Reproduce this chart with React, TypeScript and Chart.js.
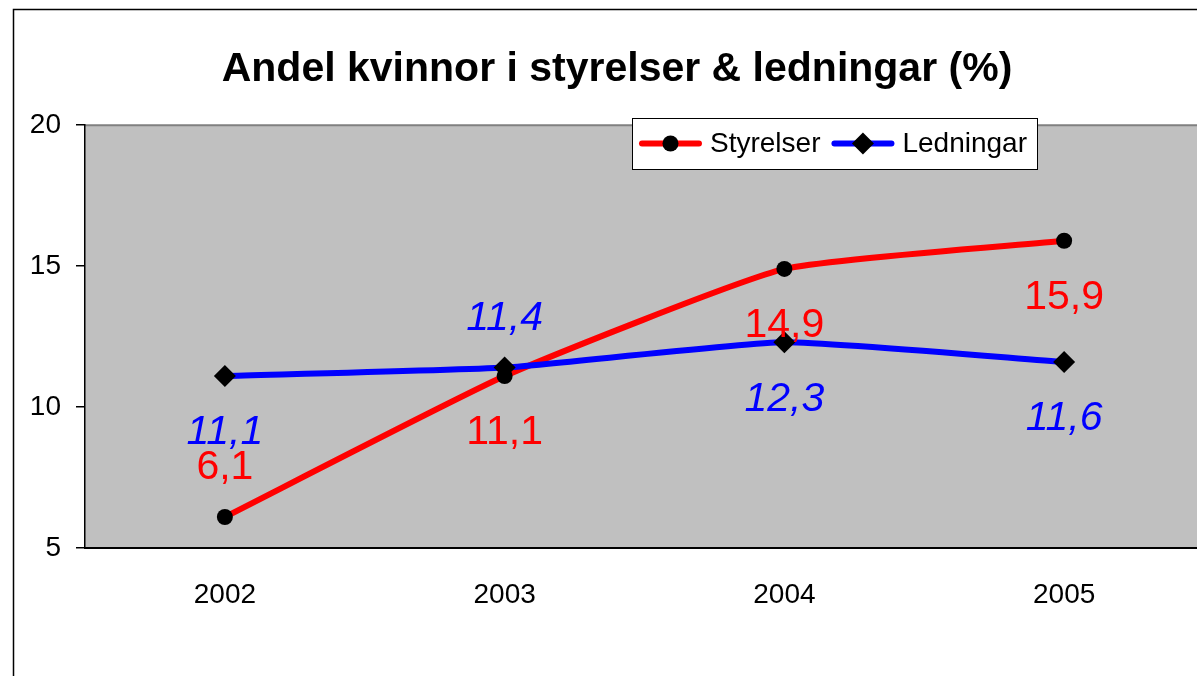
import React, { useEffect, useRef } from 'react';
import { Chart, registerables } from 'chart.js';

Chart.register(...registerables);

// ---- data ----
const years = ['2002', '2003', '2004', '2005'];
const styrelser = [6.1, 11.1, 14.9, 15.9];
const ledningar = [11.1, 11.4, 12.3, 11.6];
const yTicks = [5, 10, 15, 20];
const styrelserLabelSide = ['above', 'below', 'below', 'below'];
const ledningarLabelSide = ['below', 'above', 'below', 'below'];
const titleText = 'Andel kvinnor i styrelser & ledningar (%)';

const FONT = '"Liberation Sans", Arial, Helvetica, sans-serif';
const W = 1234;
const H = 676;

const fmt = (v: number) => v.toFixed(1).replace('.', ',');

const backgroundPlugin = {
  id: 'bgFrame',
  beforeDraw(chart: any) {
    const { ctx, chartArea } = chart;
    ctx.save();
    ctx.fillStyle = '#ffffff';
    ctx.fillRect(0, 0, chart.width, chart.height);
    ctx.strokeStyle = '#000000';
    ctx.lineWidth = 1.5;
    ctx.strokeRect(13.5, 9.5, chart.width, chart.height + 40);
    ctx.fillStyle = '#c0c0c0';
    ctx.fillRect(chartArea.left, chartArea.top, chartArea.right - chartArea.left, chartArea.bottom - chartArea.top);
    ctx.strokeStyle = '#808080';
    ctx.lineWidth = 2;
    ctx.beginPath();
    ctx.moveTo(chartArea.left, chartArea.top);
    ctx.lineTo(chartArea.right, chartArea.top);
    ctx.lineTo(chartArea.right, chartArea.bottom);
    ctx.stroke();
    ctx.restore();
  },
};

const labelPlugin = {
  id: 'valueLabels',
  afterDatasetsDraw(chart: any) {
    const { ctx } = chart;
    chart.data.datasets.forEach((ds: any, di: number) => {
      const meta = chart.getDatasetMeta(di);
      const sides = ds.labelSides as string[];
      ctx.save();
      ctx.font = `${ds.labelItalic ? 'italic ' : ''}41px ${FONT}`;
      ctx.fillStyle = ds.borderColor;
      ctx.textAlign = 'center';
      ctx.textBaseline = 'middle';
      meta.data.forEach((pt: any, i: number) => {
        const off = sides[i] === 'above' ? -49 : 57;
        ctx.fillText(fmt(ds.data[i]), pt.x, pt.y + off);
      });
      ctx.restore();
    });
  },
};

function drawMarker(ctx: CanvasRenderingContext2D, style: string, x: number, y: number) {
  ctx.fillStyle = '#000';
  ctx.beginPath();
  if (style === 'circle') {
    ctx.arc(x, y, 8, 0, Math.PI * 2);
  } else {
    const r = 11;
    ctx.moveTo(x - r, y);
    ctx.lineTo(x, y - r);
    ctx.lineTo(x + r, y);
    ctx.lineTo(x, y + r);
    ctx.closePath();
  }
  ctx.fill();
}

const legendPlugin = {
  id: 'customLegend',
  afterDraw(chart: any) {
    const { ctx } = chart;
    const datasets = chart.data.datasets;
    ctx.save();
    ctx.font = `28px ${FONT}`;
    const lineLen = 63;
    const gapText = 8;
    const gapItem = 11;
    const padL = 7;
    const padR = 10;
    let total = padL;
    datasets.forEach((ds: any, i: number) => {
      total += lineLen + gapText + ctx.measureText(ds.label).width;
      if (i < datasets.length - 1) total += gapItem;
    });
    total += padR;
    const right = 1037;
    const left = right - total;
    const top = 118;
    const h = 51;
    const cy = top + h / 2;
    ctx.fillStyle = '#ffffff';
    ctx.fillRect(left, top, total, h);
    ctx.strokeStyle = '#000';
    ctx.lineWidth = 1;
    ctx.strokeRect(Math.round(left) + 0.5, top + 0.5, Math.round(total), h);
    let x = left + padL;
    datasets.forEach((ds: any) => {
      ctx.strokeStyle = ds.borderColor;
      ctx.lineWidth = 6;
      ctx.lineCap = 'round';
      ctx.beginPath();
      ctx.moveTo(x + 3, cy);
      ctx.lineTo(x + lineLen - 3, cy);
      ctx.stroke();
      drawMarker(ctx, ds.pointStyle, x + lineLen / 2, cy);
      x += lineLen + gapText;
      ctx.fillStyle = '#000';
      ctx.textAlign = 'left';
      ctx.textBaseline = 'middle';
      ctx.fillText(ds.label, x, cy + 1);
      x += ctx.measureText(ds.label).width + gapItem;
    });
    ctx.restore();
  },
};

export default function App() {
  const ref = useRef<HTMLCanvasElement | null>(null);

  useEffect(() => {
    if (!ref.current) return;
    const chart = new Chart(ref.current, {
      type: 'line',
      data: {
        labels: years,
        datasets: [
          {
            label: 'Styrelser',
            data: styrelser,
            borderColor: '#ff0000',
            backgroundColor: '#000000',
            borderWidth: 6,
            tension: 0.15,
            pointStyle: 'circle',
            pointRadius: 8,
            pointHoverRadius: 8,
            pointBackgroundColor: '#000000',
            pointBorderColor: '#000000',
            pointBorderWidth: 0,
            order: 2,
            labelSides: styrelserLabelSide,
            labelItalic: false,
          } as any,
          {
            label: 'Ledningar',
            data: ledningar,
            borderColor: '#0000ff',
            backgroundColor: '#000000',
            borderWidth: 6,
            tension: 0.15,
            pointStyle: 'rectRot',
            pointRadius: 11,
            pointHoverRadius: 11,
            pointBackgroundColor: '#000000',
            pointBorderColor: '#000000',
            pointBorderWidth: 0,
            order: 1,
            labelSides: ledningarLabelSide,
            labelItalic: true,
          } as any,
        ],
      },
      options: {
        responsive: false,
        animation: false,
        events: [],
        layout: { padding: { left: 30, right: 30, top: 0, bottom: 0 } },
        plugins: {
          legend: { display: false },
          tooltip: { enabled: false },
          title: {
            display: true,
            text: titleText,
            color: '#000',
            font: { family: FONT, size: 41, weight: 'bold', lineHeight: 1.2 },
            padding: { top: 45, bottom: 31 },
          },
        },
        scales: {
          x: {
            offset: true,
            grid: { display: false, drawTicks: false },
            border: { display: true, color: '#000', width: 2 },
            ticks: { color: '#000', font: { family: FONT, size: 28 }, padding: 30, maxRotation: 0 },
            afterFit: (s: any) => { s.height = 128; },
          },
          y: {
            min: 5,
            max: 20,
            afterBuildTicks: (s: any) => { s.ticks = yTicks.map((v) => ({ value: v })); },
            grid: { drawOnChartArea: false, drawTicks: true, tickLength: 9, color: '#000', lineWidth: 1.5 },
            border: { display: true, color: '#000', width: 1.5 },
            ticks: { color: '#000', font: { family: FONT, size: 28 }, padding: 15 },
            afterFit: (s: any) => { s.width = 55; },
          },
        },
      },
      plugins: [backgroundPlugin, labelPlugin, legendPlugin],
    });
    return () => chart.destroy();
  }, []);

  return (
    <div style={{ position: 'fixed', left: 0, top: 0, width: 1197, height: 676, overflow: 'hidden', background: '#fff' }}>
      <canvas ref={ref} width={W} height={H} style={{ display: 'block', width: W, height: H }} />
    </div>
  );
}
